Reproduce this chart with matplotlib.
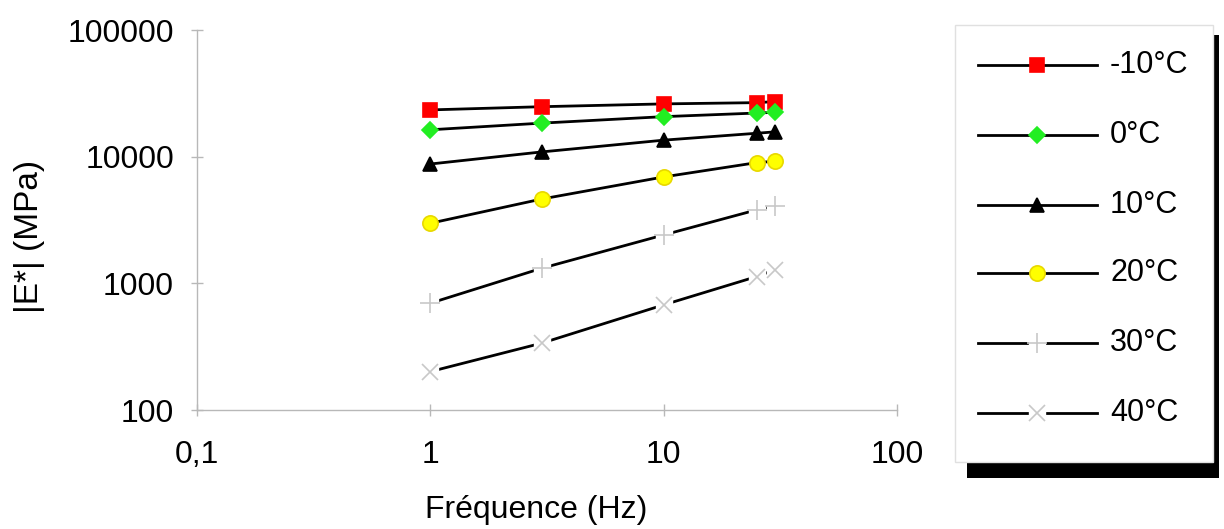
import matplotlib
matplotlib.use("Agg")
import matplotlib.pyplot as plt
from matplotlib.patches import Rectangle
from matplotlib.ticker import FixedLocator, NullLocator

plt.rcParams['font.family'] = ['Liberation Sans', 'DejaVu Sans']

freq = [1, 3, 10, 25, 30]
labels = ["-10°C", "0°C", "10°C", "20°C", "30°C", "40°C"]
e_m10 = [23400, 24800, 26100, 26700, 27200]
e_0 = [16300, 18400, 20700, 22100, 22400]
e_10 = [8750, 10900, 13500, 15300, 15700]
e_20 = [2980, 4630, 6920, 8970, 9200]
e_30 = [697, 1315, 2410, 3800, 4080]
e_40 = [201, 337, 676, 1130, 1280]
series = [e_m10, e_0, e_10, e_20, e_30, e_40]

xticks = [0.1, 1, 10, 100]
xticklabels = ["0,1", "1", "10", "100"]
yticks = [100, 1000, 10000, 100000]
yticklabels = ["100", "1000", "10000", "100000"]

styles = [
    dict(marker='s', mfc='#ff0000', mec='#ff0000', ms=10, gap=False),
    dict(marker='D', mfc='#22ee22', mec='#22ee22', ms=8, gap=False),
    dict(marker='^', mfc='black', mec='black', ms=10, gap=False),
    dict(marker='o', mfc='#ffff00', mec='#e8d800', ms=11, gap=False),
    dict(marker='+', mfc='none', mec='#c8c8c8', ms=14, gap=True),
    dict(marker='x', mfc='none', mec='#c8c8c8', ms=12, gap=True),
]

W, H = 1224, 529
fig = plt.figure(figsize=(W / 100, H / 100), dpi=100)
ax = fig.add_axes([197 / W, 1 - 410 / H, (897 - 197) / W, (410 - 30) / H])
ax.set_xscale('log')
ax.set_yscale('log')
ax.set_xlim(0.1, 100)
ax.set_ylim(100, 100000)

for vals, st in zip(series, styles):
    ax.plot(freq, vals, color='black', lw=2.0, zorder=2)
    if st['gap']:
        ax.plot(freq, vals, ls='none', marker='s', ms=11, mfc='white', mec='white', zorder=3)
    ax.plot(freq, vals, ls='none', marker=st['marker'], ms=st['ms'],
            mfc=st['mfc'], mec=st['mec'], mew=1.2, zorder=4)

for s in ['top', 'right']:
    ax.spines[s].set_visible(False)
for s in ['left', 'bottom']:
    ax.spines[s].set_color('#b8b8b8')
    ax.spines[s].set_linewidth(1.0)

ax.xaxis.set_major_locator(FixedLocator(xticks))
ax.yaxis.set_major_locator(FixedLocator(yticks))
ax.xaxis.set_minor_locator(NullLocator())
ax.yaxis.set_minor_locator(NullLocator())
ax.set_xticklabels(xticklabels)
ax.set_yticklabels(yticklabels)
ax.tick_params(axis='both', which='major', direction='inout', length=9,
               color='#b8b8b8', width=1.0, labelsize=23)
ax.tick_params(axis='y', pad=12)
ax.tick_params(axis='x', pad=17)

fig.text(536 / W, 1 - 510 / H, "Fréquence (Hz)", fontsize=23, ha='center', va='center')
fig.text(30 / W, 1 - 236 / H, "|E*| (MPa)", fontsize=24, ha='center', va='center',
         rotation=90)

# legend drawn in its own pixel-based axes
lax = fig.add_axes([0, 0, 1, 1], zorder=5)
lax.set_xlim(0, W)
lax.set_ylim(H, 0)
lax.axis('off')
lax.add_patch(Rectangle((967, 35), 1219 - 967, 478 - 35, facecolor='black',
                        edgecolor='none', zorder=1))
lax.add_patch(Rectangle((955, 25), 1213 - 955, 462 - 25, facecolor='white',
                        edgecolor='#e0e0e0', lw=1.0, zorder=2))
row_y = [65, 135, 205, 273, 343, 413]
for lab, st, yy in zip(labels, styles, row_y):
    lax.plot([978, 1097], [yy, yy], color='black', lw=2.0, zorder=3)
    if st['gap']:
        lax.plot([1037], [yy], ls='none', marker='s', ms=11, mfc='white', mec='white', zorder=4)
    lax.plot([1037], [yy], ls='none', marker=st['marker'], ms=st['ms'],
             mfc=st['mfc'], mec=st['mec'], mew=1.2, zorder=5)
    lax.text(1110, yy, lab, fontsize=22, ha='left', va='center', zorder=6)

fig.savefig("out.png", dpi=100, facecolor='white')
